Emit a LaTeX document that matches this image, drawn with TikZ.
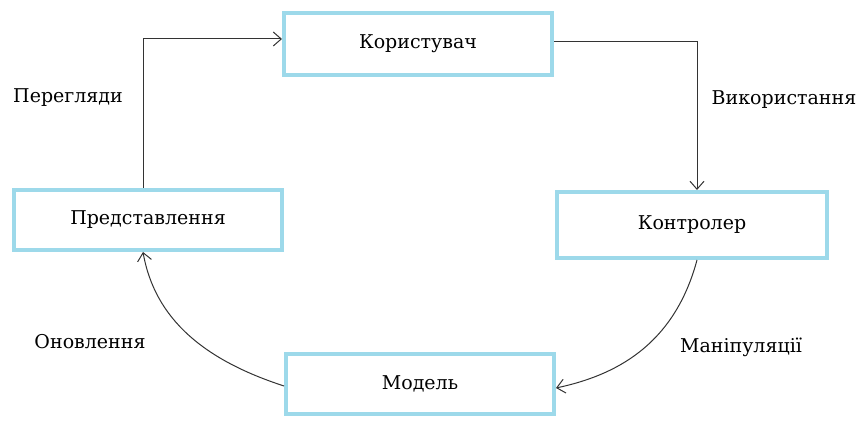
\documentclass[tikz,border=0pt]{standalone}
\usepackage{fontspec}
\setmainfont{DejaVu Serif}
\usepackage{tikz}
\usetikzlibrary{arrows.meta, positioning, calc}
\definecolor{boxblue}{HTML}{9DD9EA}
\definecolor{linegray}{HTML}{333333}

\begin{document}
\begin{tikzpicture}[x=0.5pt, y=0.5pt,
  font=\fontsize{9.5}{11}\selectfont,
  block/.style={draw=boxblue, line width=2pt, minimum width=134pt, minimum height=31pt, inner sep=0pt},
  link/.style={draw=linegray, line width=0.5pt, -{Straight Barb[length=4pt, width=7pt]}}]
\useasboundingbox (0,0) rectangle (862,421);
% Boxes
\node[block] (user) at (418,377) {Користувач};
\node[block, minimum width=135pt, minimum height=33pt] (ctrl) at (692,196) {Контролер};
\node[block, minimum height=30pt] (model) at (420,37) {Модель};
\node[block, minimum height=30pt] (view) at (148,201) {Представлення};
% Labels
\node (views) at (68,323) {Перегляди};
\node (usage) at (784,321) {Використання};
\node (manip) at (741,74) {Маніпуляції};
\node (update) at (90,79) {Оновлення};
% Arrows
\draw[link] ([xshift=-2.5pt]view.north) |- ([yshift=2.5pt]user.west);
\draw[link] ([yshift=1pt]user.east) -| ([xshift=2.5pt]ctrl.north);
\draw[link] ([xshift=2.5pt]ctrl.south) to[out=-105, in=12, out looseness=1.2, in looseness=0.8] ([yshift=-2pt]model.east);
\draw[link] ([yshift=-1pt]model.west) to[out=162, in=-80, out looseness=1.1, in looseness=0.9] ([xshift=-2.5pt]view.south);
\end{tikzpicture}
\end{document}
